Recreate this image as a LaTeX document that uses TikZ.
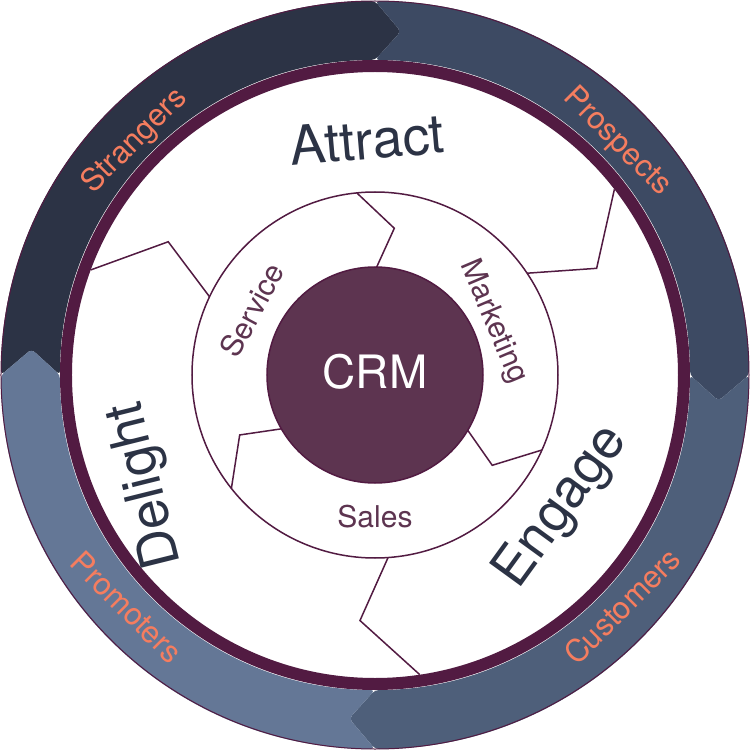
\documentclass[tikz,border=0pt]{standalone}
\usepackage{fontspec}
\setmainfont{TeX Gyre Heros}
\definecolor{ringpurple}{RGB}{82,27,66}
\definecolor{crmpurple}{RGB}{93,52,80}
\definecolor{navy}{RGB}{44,51,69}
\definecolor{salmon}{RGB}{245,125,95}
\definecolor{strangerscol}{RGB}{44,51,69}
\definecolor{prospectscol}{RGB}{61,74,99}
\definecolor{customerscol}{RGB}{78,95,122}
\definecolor{promoterscol}{RGB}{100,119,150}
\tikzset{
  stage/.style={text=navy, font=\fontsize{54}{60}\selectfont},
  team/.style={text=crmpurple, font=\fontsize{30}{34}\selectfont},
  persona/.style={text=salmon, font=\fontsize{31}{34}\selectfont},
  zigzag/.style={draw=ringpurple, line width=1.5pt, line join=miter}
}
% one quarter of the outer ring, #2 -> #3 clockwise, tip at #3
\newcommand{\ringpart}[3]{%
  \fill[#1, rounded corners=4pt] (#2:374) arc[start angle=#2, end angle=#3, radius=374]
    -- ({#3-4.3}:344.5) -- (#3:315) arc[start angle=#3, end angle=#2, radius=315]
    -- ({#2-4.3}:344.5) -- cycle;}

\begin{document}
\begin{tikzpicture}[x=1pt, y=1pt]
    \fill[white] (-375,-375) rectangle (375,375);
    \useasboundingbox (-375,-375) rectangle (375,375);
    % outer ring
    \ringpart{strangerscol}{180}{90}
    \ringpart{prospectscol}{90}{0}
    \ringpart{customerscol}{0}{-90}
    \ringpart{promoterscol}{-90}{-180}
    \draw[ringpurple, line width=1pt] (0,0) circle (374);
    \draw[ringpurple, line width=12pt] (0,0) circle (309);
    % stages and teams
    \foreach \a/\k/\o in {33.8/25.7/37.8, 154.7/147.2/159.7, 274.1/266.5/278.5}
        \draw[zigzag] (\a:183) -- (\k:246) -- (\o:303);
    \draw[zigzag] (0,0) circle (183);
    \foreach \a/\k/\i in {95.7/82.5/89.1, 218.3/203.9/209.9, 335.8/322.4/329.2}
        \draw[zigzag] (\a:183) -- (\k:148) -- (\i:108);
    \filldraw[fill=crmpurple, draw=ringpurple, line width=1.5pt] (0,0) circle (108);
    \node[text=white, font=\fontsize{46}{50}\selectfont] (crm) at (0,3) {CRM};
    \node[team, rotate=62] (service) at (-123,65) {Service};
    \node[team, rotate=-67] (marketing) at (118,53) {Marketing};
    \node[team] (sales) at (0,-142) {Sales};
    \node[stage, rotate=5] (attract) at (-8,235) {Attract};
    \node[stage, rotate=54] (engage) at (187,-132) {Engage};
    \node[stage, rotate=104] (delight) at (-228,-110) {Delight};
    \node[persona, rotate=45] (strangers) at (-240,234) {Strangers};
    \node[persona, rotate=-45] (prospects) at (242,233) {Prospects};
    \node[persona, rotate=45] (customers) at (247,-231) {Customers};
    \node[persona, rotate=-45] (promoters) at (-248,-232) {Promoters};
\end{tikzpicture}
\end{document}
